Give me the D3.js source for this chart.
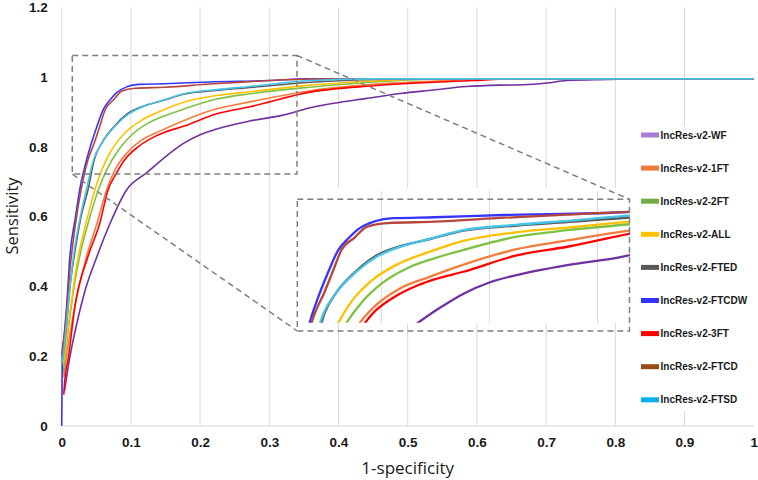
<!DOCTYPE html>
<html><head><meta charset="utf-8">
<script src="https://cdn.jsdelivr.net/npm/d3@7"></script>
<style>body{margin:0;background:#fff}svg{display:block}</style>
</head><body>
<svg id="c" width="758" height="480"></svg>
<script>
// ---- data (x = 1-specificity, y = sensitivity) ----
const seriesNames = ["IncRes-v2-WF","IncRes-v2-1FT","IncRes-v2-2FT","IncRes-v2-ALL","IncRes-v2-FTED","IncRes-v2-FTCDW","IncRes-v2-3FT","IncRes-v2-FTCD","IncRes-v2-FTSD"];
const lineColors = ["#7030a0","#f47c3c","#7dc242","#ffc000","#595959","#3535ff","#ff0000","#b5463c","#48c4e8"];
const swatchColors = ["#a77bd6","#f07a3a","#70ad47","#ffc000","#595959","#3333ff","#ff0000","#974a1a","#00b0f0"];
const xTicks = [0,0.1,0.2,0.3,0.4,0.5,0.6,0.7,0.8,0.9,1];
const xTickLabels = ["0","0.1","0.2","0.3","0.4","0.5","0.6","0.7","0.8","0.9","1"];
const yTicks = [0,0.2,0.4,0.6,0.8,1,1.2];
const yTickLabels = ["0","0.2","0.4","0.6","0.8","1","1.2"];
const insetGridX = [0.1,0.2,0.3];

const wf = [[0.004,0.1],[0.012,0.2],[0.022,0.295],[0.034,0.39],[0.051,0.486],[0.07,0.581],[0.094,0.677],[0.123,0.726],[0.152,0.775],[0.176,0.81],[0.2,0.835],[0.224,0.851],[0.272,0.874],[0.32,0.891],[0.359,0.912],[0.393,0.925],[0.441,0.939],[0.489,0.953],[0.537,0.963],[0.585,0.973],[0.633,0.977],[0.667,0.978],[0.701,0.983],[0.73,0.99],[0.788,0.993],[0.84,0.995],[1,0.995]];
const ft1 = [[0.003,0.14],[0.007,0.2],[0.019,0.342],[0.036,0.486],[0.051,0.581],[0.065,0.677],[0.077,0.734],[0.094,0.782],[0.116,0.82],[0.145,0.848],[0.176,0.875],[0.224,0.909],[0.272,0.929],[0.359,0.961],[0.45,0.979],[0.556,0.99],[0.6,0.995],[1,0.995]];
const ft2 = [[0.002,0.15],[0.005,0.2],[0.011,0.3],[0.018,0.4],[0.026,0.486],[0.038,0.58],[0.053,0.677],[0.065,0.734],[0.082,0.791],[0.101,0.834],[0.125,0.868],[0.149,0.889],[0.176,0.908],[0.224,0.937],[0.272,0.952],[0.359,0.971],[0.45,0.986],[0.55,0.995],[1,0.995]];
const all = [[0.001,0.17],[0.004,0.2],[0.01,0.295],[0.017,0.4],[0.024,0.486],[0.035,0.58],[0.048,0.677],[0.058,0.734],[0.072,0.791],[0.091,0.839],[0.116,0.877],[0.145,0.904],[0.176,0.928],[0.224,0.947],[0.272,0.958],[0.359,0.977],[0.465,0.99],[0.52,0.995],[1,0.995]];
const fted = [[0,0.18],[0.002,0.2],[0.007,0.29],[0.012,0.4],[0.018,0.486],[0.028,0.6],[0.038,0.677],[0.047,0.763],[0.058,0.811],[0.076,0.859],[0.095,0.895],[0.12,0.918],[0.145,0.932],[0.176,0.951],[0.224,0.962],[0.272,0.97],[0.359,0.985],[0.45,0.993],[0.5,0.995],[1,0.995]];
const ftcdw = [[0,0],[0.001,0.22],[0.003,0.25],[0.007,0.34],[0.012,0.49],[0.02,0.6],[0.026,0.677],[0.036,0.763],[0.043,0.811],[0.051,0.859],[0.06,0.907],[0.07,0.935],[0.079,0.955],[0.094,0.972],[0.111,0.979],[0.149,0.981],[0.214,0.986],[0.3,0.99],[0.359,0.995],[1,0.995]];
const ft3 = [[0.003,0.09],[0.004,0.12],[0.01,0.2],[0.019,0.342],[0.038,0.486],[0.055,0.581],[0.067,0.677],[0.079,0.724],[0.091,0.763],[0.111,0.801],[0.135,0.83],[0.149,0.842],[0.176,0.859],[0.224,0.895],[0.272,0.915],[0.359,0.957],[0.45,0.975],[0.595,0.99],[0.65,0.995],[1,0.995]];
const ftcd = [[0,0.2],[0.006,0.3],[0.012,0.45],[0.02,0.58],[0.028,0.677],[0.038,0.763],[0.047,0.811],[0.055,0.859],[0.063,0.907],[0.075,0.935],[0.087,0.96],[0.106,0.968],[0.149,0.971],[0.214,0.98],[0.272,0.987],[0.33,0.993],[0.4,0.995],[1,0.995]];
const ftsd = [[0,0.18],[0.002,0.2],[0.007,0.296],[0.012,0.4],[0.017,0.486],[0.027,0.6],[0.036,0.68],[0.046,0.763],[0.058,0.811],[0.077,0.859],[0.096,0.893],[0.12,0.917],[0.145,0.933],[0.176,0.952],[0.224,0.964],[0.272,0.973],[0.359,0.99],[0.45,0.995],[1,0.995]];
const seriesData = [wf, ft1, ft2, all, fted, ftcdw, ft3, ftcd, ftsd];

// source (zoomed) region and inset domain
const zoomX = [0.0153, 0.34], zoomY = [0.722, 1.062];
const insetX = [0.022, 0.33], insetY = [0.745, 0.995];

// ---- layout ----
const svg = d3.select("#c");
const x = d3.scaleLinear().domain([0,1]).range([61.7,753.7]);
const y = d3.scaleLinear().domain([0,1.2]).range([426,7.3]);
const xi = d3.scaleLinear().domain(insetX).range([297,630]);
const yi = d3.scaleLinear().domain(insetY).range([322.7,211]);

// vertical gridlines
svg.append("g").selectAll("line").data(xTicks.filter(v=>v>0 && v<1)).join("line")
  .attr("x1",d=>x(d)).attr("x2",d=>x(d)).attr("y1",y(1.2)).attr("y2",y(0))
  .attr("stroke","#d9d9d9").attr("stroke-width",1);
// axis lines
svg.append("line").attr("x1",x(0)).attr("x2",x(0)).attr("y1",y(1.2)).attr("y2",y(0)).attr("stroke","#d9d9d9");
svg.append("line").attr("x1",x(0)).attr("x2",x(1)).attr("y1",y(0)).attr("y2",y(0)).attr("stroke","#d9d9d9");

// tick labels via axes
const xAxis = svg.append("g").attr("transform",`translate(0,${y(0)})`)
  .call(d3.axisBottom(x).tickValues(xTicks).tickFormat((d,i)=>xTickLabels[i]).tickSize(0).tickPadding(11));
const yAxis = svg.append("g").attr("transform",`translate(${x(0)},0)`)
  .call(d3.axisLeft(y).tickValues(yTicks).tickFormat((d,i)=>yTickLabels[i]).tickSize(0).tickPadding(14));
[xAxis,yAxis].forEach(a=>{a.select(".domain").remove();
  a.selectAll("text").attr("font-family","Liberation Sans, Arial, sans-serif").attr("font-weight","bold").attr("font-size","13.5px").attr("fill","#1a1a1a");});

// main curves
const line = d3.line().curve(d3.curveMonotoneX).x(d=>x(d[0])).y(d=>y(d[1]));
svg.append("g").selectAll("path").data(seriesData).join("path")
  .attr("d",line).attr("fill","none").attr("stroke",(d,i)=>lineColors[i]).attr("stroke-width",1.6).attr("stroke-linejoin","round");

// inset background
svg.append("rect").attr("x",297).attr("y",188).attr("width",333).attr("height",135).attr("fill","#fff");
svg.append("g").selectAll("line").data(insetGridX).join("line")
  .attr("x1",d=>xi(d)).attr("x2",d=>xi(d)).attr("y1",191).attr("y2",323).attr("stroke","#d9d9d9");
svg.append("clipPath").attr("id","ic").append("rect").attr("x",297).attr("y",190).attr("width",333).attr("height",132.7);
const lineI = d3.line().curve(d3.curveMonotoneX).x(d=>xi(d[0])).y(d=>yi(d[1]));
svg.append("g").attr("clip-path","url(#ic)").selectAll("path").data(seriesData).join("path")
  .attr("d",lineI).attr("fill","none").attr("stroke",(d,i)=>lineColors[i]).attr("stroke-width",2.3).attr("stroke-linejoin","round");

// legend background + entries
svg.append("rect").attr("x",636).attr("y",127).attr("width",122).attr("height",284).attr("fill","#fff");
const lg = svg.append("g").selectAll("g").data(seriesNames).join("g")
  .attr("transform",(d,i)=>`translate(641,${135+i*33.1})`);
lg.append("rect").attr("x",0).attr("y",-2.5).attr("width",18).attr("height",5).attr("fill",(d,i)=>swatchColors[i]);
lg.append("text").attr("x",19.5).attr("y",0).attr("dy","0.35em").text(d=>d)
  .attr("font-family","Liberation Sans, Arial, sans-serif").attr("font-weight","bold").attr("font-size","10px").attr("fill","#1a1a1a");

// zoom boxes & connectors
const dash = g=>g.attr("fill","none").attr("stroke","#7f7f7f").attr("stroke-width",1.5).attr("stroke-dasharray","6,4");
svg.append("rect").attr("x",x(zoomX[0])).attr("y",y(zoomY[1])).attr("width",x(zoomX[1])-x(zoomX[0])).attr("height",y(zoomY[0])-y(zoomY[1])).call(dash);
svg.append("rect").attr("x",297.3).attr("y",199.3).attr("width",332.2).attr("height",131.7).call(dash);
svg.append("line").attr("x1",x(zoomX[1])).attr("y1",y(zoomY[1])).attr("x2",629.5).attr("y2",199.3).call(dash);
svg.append("line").attr("x1",x(zoomX[0])).attr("y1",y(zoomY[0])).attr("x2",297.3).attr("y2",331).call(dash);

// axis titles
svg.append("text").attr("x",(x(0)+x(1))/2).attr("y",474).attr("text-anchor","middle")
  .attr("font-family","Open Sans, sans-serif").attr("font-size","17px").attr("fill","#1a1a1a").text("1-specificity");
svg.append("text").attr("transform",`translate(18,216) rotate(-90)`).attr("text-anchor","middle")
  .attr("font-family","Open Sans, sans-serif").attr("font-size","16.5px").attr("fill","#1a1a1a").text("Sensitivity");
</script>
</body></html>
